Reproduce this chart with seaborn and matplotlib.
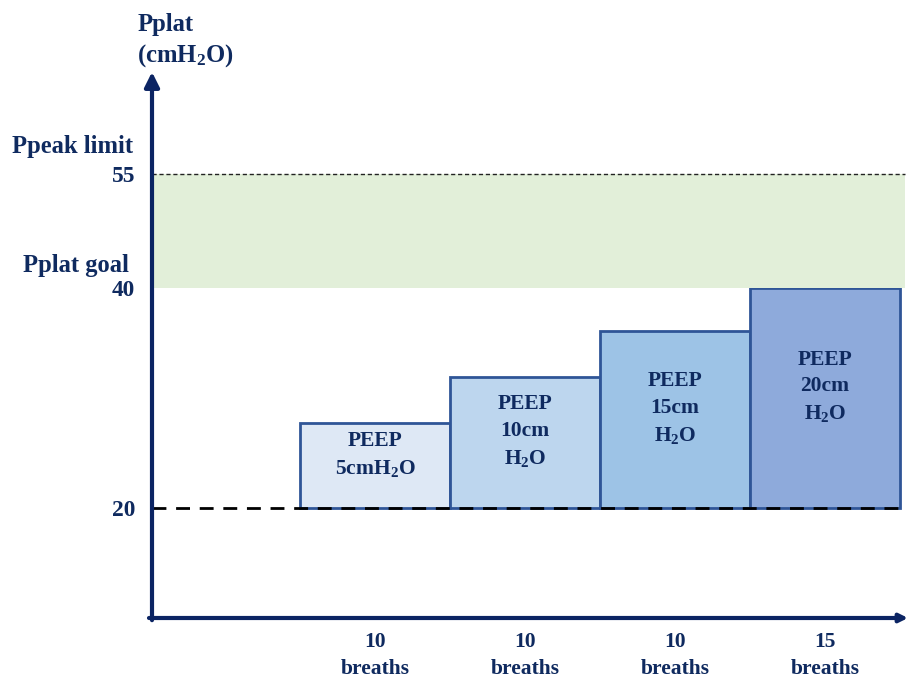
import numpy as np
import pandas as pd
import matplotlib
matplotlib.use("Agg")
import matplotlib.pyplot as plt
import matplotlib.transforms as mtransforms
import seaborn as sns

# --- data -------------------------------------------------------------
steps = ["PEEP\n5cmH$_2$O", "PEEP\n10cm\nH$_2$O", "PEEP\n15cm\nH$_2$O", "PEEP\n20cm\nH$_2$O"]
breaths = ["10\nbreaths", "10\nbreaths", "10\nbreaths", "15\nbreaths"]
pplat_top = [27.7, 31.9, 36.1, 40.0]      # plateau pressure reached at each PEEP step
baseline = 20                              # starting plateau pressure
pplat_goal = 40
ppeak_limit = 55
ytick_values = [20, 40, 55]
ytick_labels = ["20", "40", "55"]
bar_colors = ["#dee8f5", "#bdd6ee", "#9dc3e6", "#8eaadb"]

df = pd.DataFrame({"step": steps, "height": np.array(pplat_top) - baseline})

# --- style ------------------------------------------------------------
sns.set_theme(style="white")
plt.rcParams["font.family"] = ["Liberation Serif", "DejaVu Serif"]
plt.rcParams["font.weight"] = "bold"
plt.rcParams["mathtext.fontset"] = "custom"
plt.rcParams["mathtext.rm"] = "Liberation Serif:bold"
plt.rcParams["mathtext.it"] = "Liberation Serif:bold"
plt.rcParams["mathtext.bf"] = "Liberation Serif:bold"
plt.rcParams["mathtext.default"] = "rm"

navy = "#0f2a5f"
axis_navy = "#0b2463"
edge_blue = "#2f5597"
fs_big = 17.7
fs_tick = 16.8
fs_small = 15.5

W, H = 909, 677
fig = plt.figure(figsize=(W / 100, H / 100), dpi=100)
ax = fig.add_axes([152 / W, (H - 618) / H, (908 - 152) / W, (618 - 72) / H])

# schematic (piecewise linear) pressure axis
_val = [0, 20, 40, 55, 100]
_pos = [-220, 0, 220, 334, 334 + 45 * 7.6]


def fwd(v):
    return np.interp(v, _val, _pos)


def inv(p):
    return np.interp(p, _pos, _val)


ax.set_yscale("function", functions=(fwd, inv))

sns.barplot(data=df, x="step", y="height", hue="step", palette=bar_colors,
            order=steps, hue_order=steps, bottom=baseline, width=1.0,
            edgecolor=edge_blue, linewidth=2.0, legend=False, ax=ax,
            saturation=1, zorder=2)

# step labels, centred in each bar and nudged upward a little
lift = mtransforms.ScaledTranslation(0, 11 / 100, fig.dpi_scale_trans)
for i, label in enumerate(steps):
    mid = inv((fwd(baseline) + fwd(pplat_top[i])) / 2)
    ax.text(i, mid, label, ha="center", va="center", color=navy,
            fontsize=fs_small, fontweight="bold", linespacing=1.45,
            transform=ax.transData + lift, zorder=4)

ax.set_xlim(-1.487, 3.553)
ax.set_ylim(10, inv(436))

band_right = (905 - 152) / (908 - 152)
ax.axhspan(pplat_goal, ppeak_limit, xmin=0, xmax=band_right, color="#e2efd9", lw=0, zorder=3)
ax.axhline(ppeak_limit, xmin=0, xmax=band_right, color="#222222", lw=1.0,
           dashes=(3, 2), zorder=3)
ax.axhline(baseline, xmin=0, xmax=band_right, color="black", lw=2.0,
           dashes=(5, 3.5), zorder=3.5)

# ticks and labels
ax.set_yticks(ytick_values)
ax.set_yticklabels(ytick_labels)
ax.set_xticks(range(len(steps)))
ax.set_xticklabels(breaths)
ax.tick_params(axis="y", length=0, pad=12, labelsize=fs_tick, labelcolor=navy)
ax.tick_params(axis="x", length=0, pad=10, labelsize=fs_small, labelcolor=navy)
for t in ax.get_xticklabels():
    t.set_fontweight("bold")
    t.set_linespacing(1.45)
for t in ax.get_yticklabels():
    t.set_fontweight("bold")
ax.set_xlabel("")
ax.set_ylabel("")

for s in ax.spines.values():
    s.set_visible(False)

# arrowed axes
ax.annotate("", xy=(0, 1.0), xytext=(0, -0.004), xycoords="axes fraction",
            arrowprops=dict(arrowstyle="-|>", color=axis_navy, lw=3.0,
                            mutation_scale=22, shrinkA=0, shrinkB=0),
            annotation_clip=False, zorder=5)
ax.annotate("", xy=(1.0, 0), xytext=(-0.004, 0), xycoords="axes fraction",
            arrowprops=dict(arrowstyle="-|>", color=axis_navy, lw=3.0,
                            mutation_scale=12, shrinkA=0, shrinkB=0),
            annotation_clip=False, zorder=5)

# side annotations
fig.text(133 / W, 1 - 147 / H, "Ppeak limit", ha="right", va="center",
         color=navy, fontsize=fs_big, fontweight="bold")
fig.text(129 / W, 1 - 266 / H, "Pplat goal", ha="right", va="center",
         color=navy, fontsize=fs_big, fontweight="bold")
fig.text(166 / W, 1 - 25 / H, "Pplat", ha="center", va="center",
         color=navy, fontsize=fs_big, fontweight="bold")
fig.text(185 / W, 1 - 56 / H, "(cmH$_2$O)", ha="center", va="center",
         color=navy, fontsize=fs_big, fontweight="bold")

fig.savefig("out.png", dpi=100)
